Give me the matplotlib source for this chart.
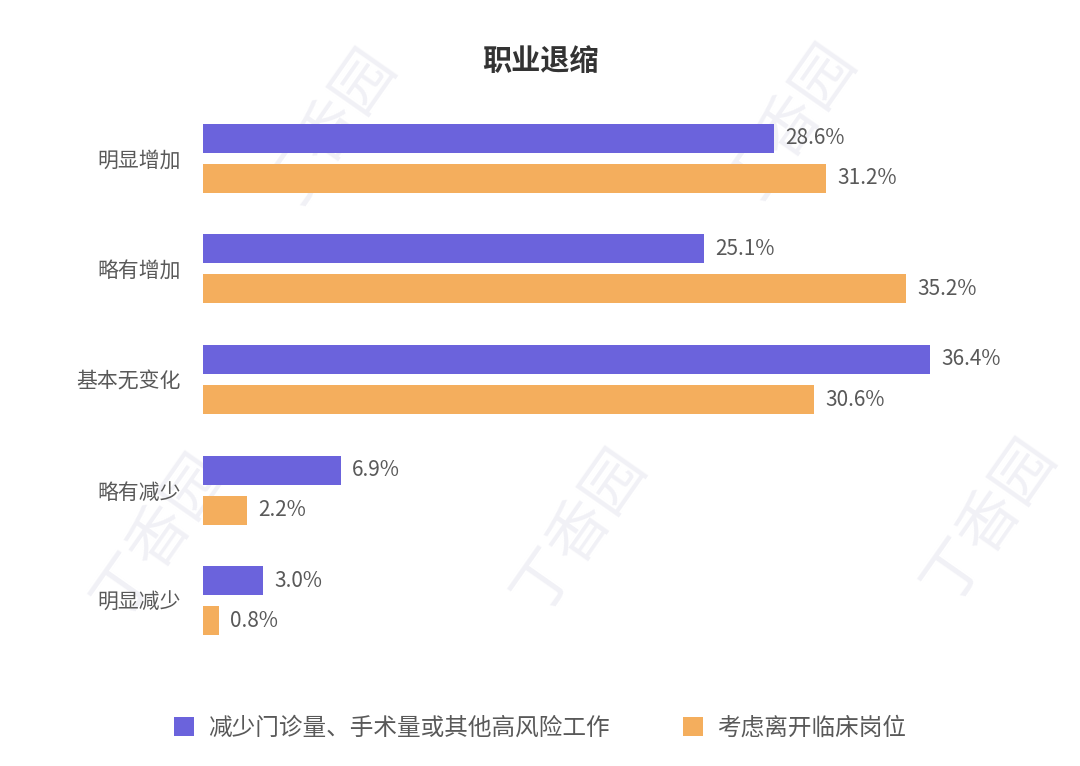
import matplotlib
matplotlib.use("Agg")
import matplotlib.pyplot as plt
from matplotlib.patches import Patch
import numpy as np

plt.rcParams['font.family'] = ['Noto Sans CJK SC', 'DejaVu Sans']

# 数据
categories = ['明显增加', '略有增加', '基本无变化', '略有减少', '明显减少']
series_names = ['减少门诊量、手术量或其他高风险工作', '考虑离开临床岗位']
reduce_work = [28.6, 25.1, 36.4, 6.9, 3.0]
leave_clinic = [31.2, 35.2, 30.6, 2.2, 0.8]

purple = '#6b63dc'
orange = '#f4ae5d'
label_gray = '#595959'

fig = plt.figure(figsize=(10.8, 7.66), dpi=100)

# 水印 (放在坐标轴下面)
for (px, py) in [(330, 130), (790, 125), (160, 535), (580, 530), (990, 520)]:
    fig.text(px / 1080, 1 - py / 766, '丁香园', fontsize=44, color='#f1f1f6',
             fontweight='light', rotation=55, ha='center', va='center', zorder=-5)

ax = fig.add_axes([203 / 1080, 1 - 656 / 766, 857 / 1080, 553 / 766])

y = np.arange(len(categories))
h = 0.262
off = 0.181
ax.barh(y - off, reduce_work, height=h, color=purple, zorder=2)
ax.barh(y + off, leave_clinic, height=h, color=orange, zorder=2)

for i in range(len(categories)):
    ax.text(reduce_work[i] + 0.55, y[i] - off, f'{reduce_work[i]:.1f}%',
            va='center', ha='left', fontsize=15, color=label_gray)
    ax.text(leave_clinic[i] + 0.55, y[i] + off, f'{leave_clinic[i]:.1f}%',
            va='center', ha='left', fontsize=15, color=label_gray)

ax.set_xlim(0, 857 / 19.97)
ax.set_ylim(len(categories) - 0.5, -0.5)
ax.set_yticks(y)
ax.set_yticklabels(categories, fontsize=15, color=label_gray)
ax.tick_params(axis='y', length=0, pad=16)
ax.set_xticks([])
for s in ax.spines.values():
    s.set_visible(False)
ax.patch.set_alpha(0)

fig.text(0.5, 1 - 61 / 766, '职业退缩', ha='center', va='center',
         fontsize=21, fontweight='bold', color='#333333')

handles = [Patch(facecolor=purple, edgecolor='none'),
           Patch(facecolor=orange, edgecolor='none')]
fig.legend(handles, series_names, loc='center', bbox_to_anchor=(0.5, 1 - 728 / 766),
           ncol=2, frameon=False, fontsize=17, handlelength=0.85, handleheight=0.85,
           handletextpad=0.6, columnspacing=3.1, labelcolor=label_gray)

fig.savefig('out.png', dpi=100)
